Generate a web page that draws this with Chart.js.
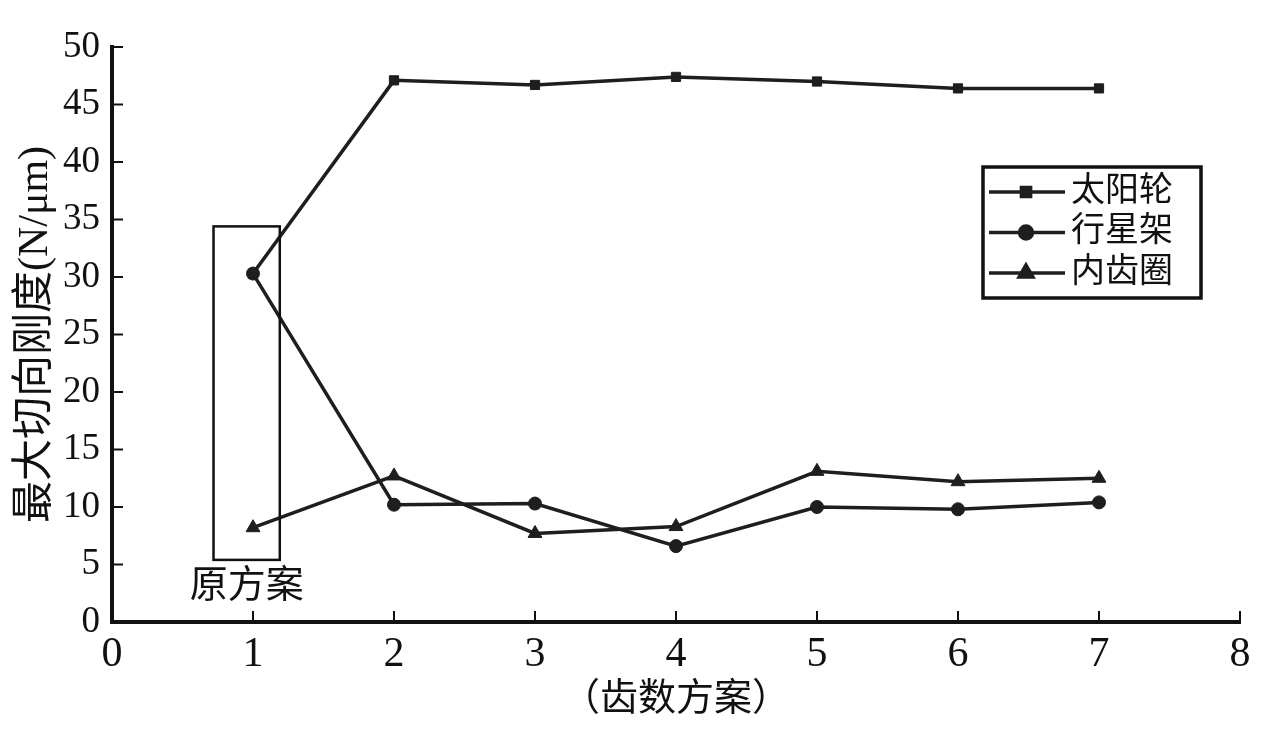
<!DOCTYPE html>
<html>
<head>
<meta charset="utf-8">
<script src="https://cdn.jsdelivr.net/npm/chart.js@4/dist/chart.umd.min.js"></script>
<style>
html,body{margin:0;padding:0;background:#fff;}
#wrap{width:1268px;height:730px;position:relative;}
</style>
</head>
<body>
<div id="wrap"><canvas id="c" width="1268" height="730"></canvas></div>
<script>
const schemes = [1, 2, 3, 4, 5, 6, 7];
const sunGear = [30.3, 47.1, 46.7, 47.4, 47.0, 46.4, 46.4];
const carrier = [30.3, 10.2, 10.3, 6.6, 10.0, 9.8, 10.4];
const ringGear = [8.2, 12.7, 7.7, 8.3, 13.1, 12.2, 12.5];
const seriesNames = ['太阳轮', '行星架', '内齿圈'];
const xTicks = [0, 1, 2, 3, 4, 5, 6, 7, 8];
const yTicks = [0, 5, 10, 15, 20, 25, 30, 35, 40, 45, 50];
const yTitle = '最大切向刚度(N/μm)';
const xTitle = '（齿数方案）';
const boxLabel = '原方案';
const boxRange = {x0: 0.72, x1: 1.19, y0: 5.4, y1: 34.4};

const serif = "'Liberation Serif','DejaVu Serif',serif";
const cjk = "'Liberation Serif','Noto Sans CJK SC',serif";
const lineColor = '#1e1e1e';

function pts(vals){ return schemes.map((x,i)=>({x:x,y:vals[i]})); }

const ds = (label, vals, style, r) => ({
  label, data: pts(vals), borderColor: lineColor, backgroundColor: lineColor,
  borderWidth: 3.5, pointStyle: style, pointRadius: r, pointBorderWidth: 1,
  pointBorderColor: lineColor, pointBackgroundColor: lineColor, tension: 0
});

const decor = {
  id: 'decor',
  afterDraw(chart){
    const ctx = chart.ctx, xs = chart.scales.x, ys = chart.scales.y;
    ctx.save();
    ctx.strokeStyle = '#111'; ctx.lineWidth = 2;
    // inward ticks
    xTicks.forEach(v=>{ const px = xs.getPixelForValue(v); ctx.beginPath(); ctx.moveTo(px, ys.bottom); ctx.lineTo(px, ys.bottom-11); ctx.stroke(); });
    yTicks.forEach(v=>{ const py = ys.getPixelForValue(v); ctx.beginPath(); ctx.moveTo(xs.left, py); ctx.lineTo(xs.left+11, py); ctx.stroke(); });
    // highlight box
    const bx0 = xs.getPixelForValue(boxRange.x0), bx1 = xs.getPixelForValue(boxRange.x1);
    const by0 = ys.getPixelForValue(boxRange.y1), by1 = ys.getPixelForValue(boxRange.y0);
    ctx.lineWidth = 2.5;
    ctx.strokeRect(bx0, by0, bx1-bx0, by1-by0);
    ctx.fillStyle = '#111';
    ctx.font = "38px " + cjk;
    ctx.textAlign = 'center'; ctx.textBaseline = 'middle';
    ctx.fillText(boxLabel, (bx0+bx1)/2, by1+27);
    // legend
    const lx = 983, ly = 167, lw = 218, lh = 131;
    ctx.lineWidth = 3.5; ctx.strokeStyle = '#111';
    ctx.strokeRect(lx, ly, lw, lh);
    chart.data.datasets.forEach((d, i)=>{
      const cy = ly + 25 + i*40.5;
      ctx.strokeStyle = lineColor; ctx.lineWidth = 3.5;
      ctx.beginPath(); ctx.moveTo(lx+6, cy); ctx.lineTo(lx+82, cy); ctx.stroke();
      Chart.helpers.drawPoint(ctx, {pointStyle: d.pointStyle, radius: d.pointRadius, borderWidth: 1, rotation: 0}, lx+43, cy);
      ctx.fillStyle = lineColor; ctx.fill();
      ctx.fillStyle = '#111';
      ctx.font = "34px " + cjk; ctx.textAlign = 'left'; ctx.textBaseline = 'middle';
      ctx.fillText(d.label, lx+88, cy);
    });
    ctx.restore();
  }
};

new Chart(document.getElementById('c'), {
  type: 'line',
  data: { datasets: [
    ds(seriesNames[0], sunGear, 'rect', 6.5),
    ds(seriesNames[1], carrier, 'circle', 6.5),
    ds(seriesNames[2], ringGear, 'triangle', 8)
  ]},
  options: {
    responsive: false, animation: false,
    layout: { padding: { top: 47, right: 28, left: 0, bottom: 0 } },
    plugins: { legend: { display: false }, tooltip: { enabled: false } },
    scales: {
      x: {
        type: 'linear', min: 0, max: 8,
        afterBuildTicks: s => { s.ticks = xTicks.map(v=>({value:v})); },
        grid: { display: false, drawTicks: false },
        border: { display: true, color: '#111', width: 4 },
        ticks: { color: '#111', font: { family: serif, size: 42 }, padding: 8, maxRotation: 0 },
        title: { display: true, text: xTitle, color: '#111', font: { family: cjk, size: 38 }, padding: { top: 0, bottom: 7 } },
        afterFit: s => { s.height = 108; }
      },
      y: {
        type: 'linear', min: 0, max: 50,
        afterBuildTicks: s => { s.ticks = yTicks.map(v=>({value:v})); },
        grid: { display: false, drawTicks: false },
        border: { display: true, color: '#111', width: 4 },
        ticks: { color: '#111', font: { family: serif, size: 37 }, padding: 12 },
        title: { display: true, text: yTitle, color: '#111', font: { family: cjk, size: 42 }, padding: { top: 11, bottom: 0 } },
        afterFit: s => { s.width = 112; }
      }
    }
  },
  plugins: [decor]
});
</script>
</body>
</html>
